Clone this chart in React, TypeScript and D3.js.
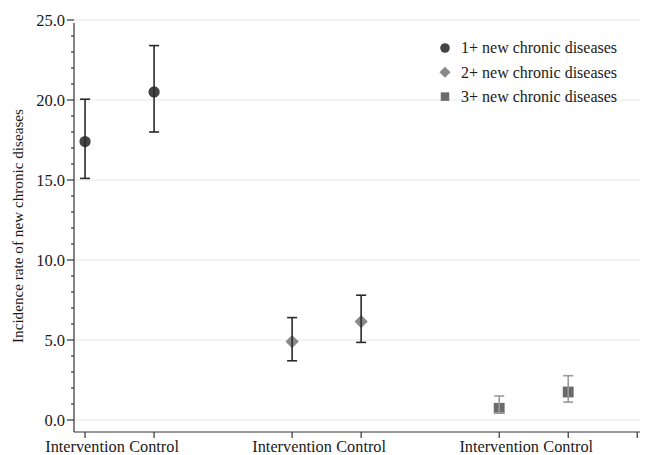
import React, { useEffect, useRef } from "react";
import * as d3 from "d3";

// categories and series
const groups = ["1+ new chronic diseases", "2+ new chronic diseases", "3+ new chronic diseases"];
const arms = ["Intervention", "Control"];
// x slot of each arm within each group (gaps at 2 and 5, blank tick at 8)
const slots = [
  [0, 1],
  [3, 4],
  [6, 7],
];
const extraTick = 8;
const rates = [
  [17.4, 20.5],
  [4.9, 6.15],
  [0.73, 1.75],
];
const lower = [
  [15.1, 18.0],
  [3.7, 4.85],
  [0.45, 1.12],
];
const upper = [
  [20.05, 23.4],
  [6.4, 7.8],
  [1.5, 2.77],
];
const yTicks = [0, 5, 10, 15, 20, 25];
const yMinor = d3.range(0, 26);

const markerFill = ["#444444", "#8a8a8a", "#6b6b6b"];
const barColor = ["#2a2a2a", "#2a2a2a", "#9a9a9a"];
// diamond = square turned 45 degrees
const shapes = [d3.symbolCircle, d3.symbolSquare, d3.symbolSquare];
const rotate = [0, 45, 0];
const shapeSize = [100, 88, 118];
const legendSize = [72, 62, 72];

const W = 646;
const H = 455;
const FONT = "'Liberation Serif', 'Times New Roman', serif";

export default function App() {
  const svgRef = useRef<SVGSVGElement>(null);

  useEffect(() => {
    if (!svgRef.current) return;
    const svg = d3.select(svgRef.current);
    svg.selectAll("*").remove();

    const x = d3.scaleLinear().domain([-0.16, 8.04]).range([74, 640]);
    const y = d3.scaleLinear().domain([0, 25]).range([420, 20]);
    const axisY = 432;

    // grid
    svg
      .append("g")
      .selectAll("line")
      .data(yTicks)
      .enter()
      .append("line")
      .attr("x1", 74)
      .attr("x2", 640)
      .attr("y1", (d) => y(d))
      .attr("y2", (d) => y(d))
      .attr("stroke", "#e8e8e8")
      .attr("stroke-width", 1);

    // y axis
    const ya = svg.append("g").attr("stroke", "#333").attr("stroke-width", 1.2);
    ya.append("line").attr("x1", 74).attr("x2", 74).attr("y1", 23).attr("y2", axisY);
    ya.selectAll(".minor")
      .data(yMinor.filter((d) => d % 5 !== 0))
      .enter()
      .append("line")
      .attr("x1", 71)
      .attr("x2", 74)
      .attr("y1", (d) => y(d))
      .attr("y2", (d) => y(d));
    ya.selectAll(".major")
      .data(yTicks)
      .enter()
      .append("line")
      .attr("x1", 67)
      .attr("x2", 74)
      .attr("y1", (d) => y(d))
      .attr("y2", (d) => y(d));

    svg
      .append("g")
      .selectAll("text")
      .data(yTicks)
      .enter()
      .append("text")
      .attr("x", 65)
      .attr("y", (d) => y(d))
      .attr("dy", "0.34em")
      .attr("text-anchor", "end")
      .attr("font-family", FONT)
      .attr("font-size", 16.5)
      .attr("fill", "#1a1a1a")
      .text((d) => d.toFixed(1));

    svg
      .append("text")
      .attr("transform", `translate(23,226) rotate(-90)`)
      .attr("text-anchor", "middle")
      .attr("font-family", FONT)
      .attr("font-size", 15.2)
      .attr("fill", "#1a1a1a")
      .text("Incidence rate of new chronic diseases");

    // x axis
    const xa = svg.append("g").attr("stroke", "#333").attr("stroke-width", 1.2);
    xa.append("line").attr("x1", 74).attr("x2", 640).attr("y1", axisY).attr("y2", axisY);
    const tickVals = [...slots.flat(), extraTick];
    xa.selectAll(".t")
      .data(tickVals)
      .enter()
      .append("line")
      .attr("x1", (d) => x(d))
      .attr("x2", (d) => x(d))
      .attr("y1", axisY)
      .attr("y2", axisY + 6);

    const labelData = slots.flatMap((s) => s.map((v, j) => ({ v, label: arms[j] })));
    svg
      .append("g")
      .selectAll("text")
      .data(labelData)
      .enter()
      .append("text")
      .attr("x", (d) => x(d.v))
      .attr("y", 452)
      .attr("text-anchor", "middle")
      .attr("font-family", FONT)
      .attr("font-size", 16.3)
      .attr("fill", "#1a1a1a")
      .text((d) => d.label);

    // points and error bars
    const pts = groups.flatMap((_, g) =>
      arms.map((_a, j) => ({
        g,
        xv: slots[g][j],
        v: rates[g][j],
        lo: lower[g][j],
        hi: upper[g][j],
      }))
    );

    svg
      .append("g")
      .selectAll("path")
      .data(pts)
      .enter()
      .append("path")
      .attr("transform", (d) => `translate(${x(d.xv)},${y(d.v)}) rotate(${rotate[d.g]})`)
      .attr("d", (d) => d3.symbol(shapes[d.g], shapeSize[d.g])())
      .attr("fill", (d) => markerFill[d.g]);

    const eb = svg.append("g");
    pts.forEach((d) => {
      const cx = x(d.xv);
      const c = barColor[d.g];
      eb.append("line")
        .attr("x1", cx).attr("x2", cx)
        .attr("y1", y(d.hi)).attr("y2", y(d.lo))
        .attr("stroke", c).attr("stroke-width", 1.6);
      [d.hi, d.lo].forEach((v) => {
        eb.append("line")
          .attr("x1", cx - 5).attr("x2", cx + 5)
          .attr("y1", y(v)).attr("y2", y(v))
          .attr("stroke", c).attr("stroke-width", 1.6);
      });
    });

    // legend
    const lg = svg.append("g").attr("transform", "translate(445,48)");
    groups.forEach((name, g) => {
      const row = lg.append("g").attr("transform", `translate(0,${g * 24.3})`);
      row.append("path")
        .attr("transform", `rotate(${rotate[g]})`)
        .attr("d", d3.symbol(shapes[g], legendSize[g])())
        .attr("fill", markerFill[g]);
      row.append("text")
        .attr("x", 16)
        .attr("dy", "0.34em")
        .attr("font-family", FONT)
        .attr("font-size", 16)
        .attr("fill", "#1a1a1a")
        .text(name);
    });
  }, []);

  return (
    <svg
      ref={svgRef}
      width={W}
      height={H}
      style={{ position: "absolute", left: 0, top: 0, background: "#fff" }}
    ></svg>
  );
}
